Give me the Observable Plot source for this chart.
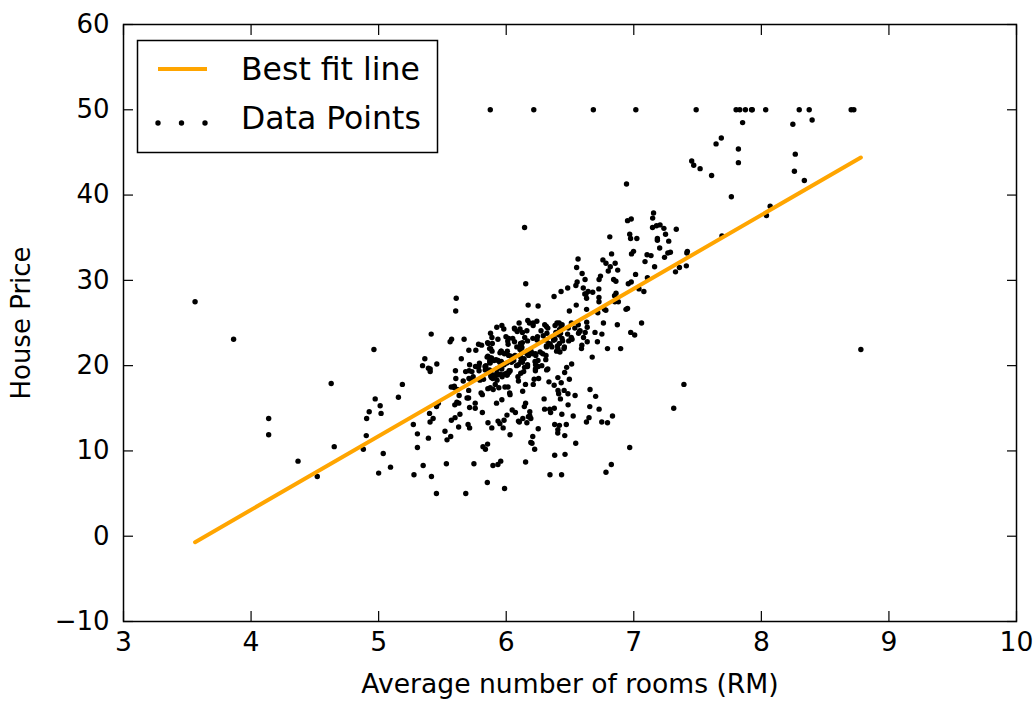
<!DOCTYPE html>
<html>
<head>
<meta charset="utf-8">
<script src="https://cdn.jsdelivr.net/npm/d3@7"></script>
<script src="https://cdn.jsdelivr.net/npm/@observablehq/plot@0.6"></script>
<style>
  html, body { margin: 0; padding: 0; background: #fff; }
  #chart svg { display: block; }
</style>
</head>
<body>
<div id="chart"></div>
<script>
// Average number of rooms per dwelling (RM), one entry per tract
const rooms = [
  6.575, 6.421, 7.185, 6.998, 7.147, 6.430, 6.012, 6.172, 5.631, 6.004,
  6.377, 6.009, 5.889, 5.949, 6.096, 5.834, 5.935, 5.990, 5.456, 5.727,
  5.570, 5.965, 6.142, 5.813, 5.924, 5.599, 5.813, 6.047, 6.495, 6.674,
  5.713, 6.072, 5.950, 5.701, 6.096, 5.933, 5.841, 5.850, 5.966, 6.595,
  7.024, 6.770, 6.169, 6.211, 6.069, 5.682, 5.786, 6.030, 5.399, 5.602,
  5.963, 6.115, 6.511, 5.998, 5.888, 7.249, 6.383, 6.816, 6.145, 5.927,
  5.741, 5.966, 6.456, 6.762, 7.104, 6.290, 5.787, 5.878, 5.594, 5.885,
  6.417, 5.961, 6.065, 6.245, 6.273, 6.286, 6.279, 6.140, 6.232, 5.874,
  6.727, 6.619, 6.302, 6.167, 6.389, 6.630, 6.015, 6.121, 7.007, 7.079,
  6.417, 6.405, 6.442, 6.211, 6.249, 6.625, 6.163, 8.069, 7.820, 7.416,
  6.727, 6.781, 6.405, 6.137, 6.167, 5.851, 5.836, 6.127, 6.474, 6.229,
  6.195, 6.715, 5.913, 6.092, 6.254, 5.928, 6.176, 6.021, 5.872, 5.731,
  5.870, 6.004, 5.961, 5.856, 5.879, 5.986, 5.613, 5.693, 6.431, 5.637,
  6.458, 6.326, 6.372, 5.822, 5.757, 6.335, 5.942, 6.454, 5.857, 6.151,
  6.174, 5.019, 5.403, 5.468, 4.903, 6.130, 5.628, 4.926, 5.186, 5.597,
  6.122, 5.404, 5.012, 5.709, 6.129, 6.152, 5.272, 6.943, 6.066, 6.510,
  6.250, 7.489, 7.802, 8.375, 5.854, 6.101, 7.929, 5.877, 6.319, 6.402,
  5.875, 5.880, 5.572, 6.416, 5.859, 6.546, 6.020, 6.315, 6.860, 6.980,
  7.765, 6.144, 7.155, 6.563, 5.604, 6.153, 7.831, 6.782, 6.556, 7.185,
  6.951, 6.739, 7.178, 6.800, 6.604, 7.875, 7.287, 7.107, 7.274, 6.975,
  7.135, 6.162, 7.610, 7.853, 8.034, 5.891, 6.326, 5.783, 6.064, 5.344,
  5.960, 5.404, 5.807, 6.375, 5.412, 6.182, 5.888, 6.642, 5.951, 6.373,
  6.951, 6.164, 6.879, 6.618, 8.266, 8.725, 8.040, 7.163, 7.686, 6.552,
  5.981, 7.412, 8.337, 8.247, 6.726, 6.086, 6.631, 7.358, 6.481, 6.606,
  6.897, 6.095, 6.358, 6.393, 5.593, 5.605, 6.108, 6.226, 6.433, 6.718,
  6.487, 6.438, 6.957, 8.259, 6.108, 5.876, 7.454, 8.704, 7.333, 6.842,
  7.203, 7.520, 8.398, 7.327, 7.206, 5.560, 7.014, 8.297, 7.470, 5.920,
  5.856, 6.240, 6.538, 7.691, 6.758, 6.854, 7.267, 6.826, 6.482, 6.812,
  7.820, 6.968, 7.645, 7.923, 7.088, 6.453, 6.230, 6.209, 6.315, 6.565,
  6.861, 7.148, 6.630, 6.127, 6.009, 6.678, 6.549, 5.790, 6.345, 7.041,
  6.871, 6.590, 6.495, 6.982, 7.236, 6.616, 7.420, 6.849, 6.635, 5.972,
  4.973, 6.122, 6.023, 6.266, 6.567, 5.705, 5.914, 5.782, 6.382, 6.113,
  6.426, 6.376, 6.041, 5.708, 6.415, 6.431, 6.312, 6.083, 5.868, 6.333,
  6.144, 5.706, 6.031, 6.316, 6.310, 6.037, 5.869, 5.895, 6.059, 5.985,
  5.968, 7.241, 6.540, 6.696, 6.874, 6.014, 5.898, 6.516, 6.635, 6.939,
  6.490, 6.579, 5.884, 6.728, 5.663, 5.936, 6.212, 6.395, 6.127, 6.112,
  6.398, 6.251, 5.362, 5.803, 8.780, 3.561, 4.963, 3.863, 4.970, 6.683,
  7.016, 6.216, 5.875, 4.906, 4.138, 7.313, 6.649, 6.794, 6.380, 6.223,
  6.968, 6.545, 5.536, 5.520, 4.368, 5.277, 4.652, 5.000, 4.880, 5.390,
  5.713, 6.051, 5.036, 6.193, 5.887, 6.471, 6.405, 5.747, 5.453, 5.852,
  5.987, 6.343, 6.404, 5.349, 5.531, 5.683, 4.138, 5.608, 5.617, 6.852,
  5.757, 6.657, 4.628, 5.155, 4.519, 6.434, 6.782, 5.304, 5.957, 6.824,
  6.411, 6.006, 5.648, 6.103, 5.565, 5.896, 5.837, 6.202, 6.193, 6.380,
  6.348, 6.833, 6.425, 6.436, 6.208, 6.629, 6.461, 6.152, 5.935, 5.627,
  5.818, 6.406, 6.219, 6.485, 5.854, 6.459, 6.341, 6.251, 6.185, 6.417,
  6.749, 6.655, 6.297, 7.393, 6.728, 6.525, 5.976, 5.936, 6.301, 6.081,
  6.701, 6.376, 6.317, 6.513, 6.209, 5.759, 5.952, 6.003, 5.926, 5.713,
  6.167, 6.229, 6.437, 6.980, 5.427, 6.162, 6.484, 5.304, 6.185, 6.229,
  6.242, 6.750, 7.061, 5.762, 5.871, 6.312, 6.114, 5.905, 5.454, 5.414,
  5.093, 5.983, 5.983, 5.707, 5.926, 5.670, 5.390, 5.794, 6.019, 5.569,
  6.027, 6.593, 6.120, 6.976, 6.794, 6.030
];

// Median house price (in $1000s), same order as rooms
const prices = [
  24.0, 21.6, 34.7, 33.4, 36.2, 28.7, 22.9, 27.1, 16.5, 18.9,
  15.0, 18.9, 21.7, 20.4, 18.2, 19.9, 23.1, 17.5, 20.2, 18.2,
  13.6, 19.6, 15.2, 14.5, 15.6, 13.9, 16.6, 14.8, 18.4, 21.0,
  12.7, 14.5, 13.2, 13.1, 13.5, 18.9, 20.0, 21.0, 24.7, 30.8,
  34.9, 26.6, 25.3, 24.7, 21.2, 19.3, 20.0, 16.6, 14.4, 19.4,
  19.7, 20.5, 25.0, 23.4, 18.9, 35.4, 24.7, 31.6, 23.3, 19.6,
  18.7, 16.0, 22.2, 25.0, 33.0, 23.5, 19.4, 22.0, 17.4, 20.9,
  24.2, 21.7, 22.8, 23.4, 24.1, 21.4, 20.0, 20.8, 21.2, 20.3,
  28.0, 23.9, 24.8, 22.9, 23.9, 26.6, 22.5, 22.2, 23.6, 28.7,
  22.6, 22.0, 22.9, 25.0, 20.6, 28.4, 21.4, 38.7, 43.8, 33.2,
  27.5, 26.5, 18.6, 19.3, 20.1, 19.5, 19.5, 20.4, 19.8, 19.4,
  21.7, 22.8, 18.8, 18.7, 18.5, 18.3, 21.2, 19.2, 20.4, 19.3,
  22.0, 20.3, 20.5, 17.3, 18.8, 21.4, 15.7, 16.2, 18.0, 14.3,
  19.2, 19.6, 23.0, 18.4, 15.6, 18.1, 17.4, 17.1, 13.3, 17.8,
  14.0, 14.4, 13.4, 15.6, 11.8, 13.8, 15.6, 14.6, 17.8, 15.4,
  21.5, 19.6, 15.3, 19.4, 17.0, 15.6, 13.1, 41.3, 24.3, 23.3,
  27.0, 50.0, 50.0, 50.0, 22.7, 25.0, 50.0, 23.8, 23.8, 22.3,
  17.4, 19.1, 23.1, 23.6, 22.6, 29.4, 23.2, 24.6, 29.9, 37.2,
  39.8, 36.2, 37.9, 32.5, 26.4, 29.6, 50.0, 32.0, 29.8, 34.9,
  37.0, 30.5, 36.4, 31.1, 29.1, 50.0, 33.3, 30.3, 34.6, 34.9,
  32.9, 24.1, 42.3, 48.5, 50.0, 22.6, 24.4, 22.5, 24.4, 20.0,
  21.7, 19.3, 22.4, 28.1, 23.7, 25.0, 23.3, 28.7, 21.5, 23.0,
  26.7, 21.7, 27.5, 30.1, 44.8, 50.0, 37.6, 31.6, 46.7, 31.5,
  24.3, 31.7, 41.7, 48.3, 29.0, 24.0, 25.1, 31.5, 23.7, 23.3,
  22.0, 20.1, 22.2, 23.7, 17.6, 18.5, 24.3, 20.5, 24.5, 26.2,
  24.4, 24.8, 29.6, 42.8, 21.9, 20.9, 44.0, 50.0, 36.0, 30.1,
  33.8, 43.1, 48.8, 31.0, 36.5, 22.8, 30.7, 50.0, 43.5, 20.7,
  21.1, 25.2, 24.4, 35.2, 32.4, 32.0, 33.2, 33.1, 29.1, 35.1,
  45.4, 35.4, 46.0, 50.0, 32.2, 22.0, 20.1, 23.2, 22.3, 24.8,
  28.5, 37.3, 27.9, 23.9, 21.7, 28.6, 27.1, 20.3, 22.5, 29.0,
  24.8, 22.0, 26.4, 33.1, 36.1, 28.4, 33.4, 28.2, 22.8, 20.3,
  16.1, 22.1, 19.4, 21.6, 23.8, 16.2, 17.8, 19.8, 23.1, 21.0,
  23.8, 23.1, 20.4, 18.5, 25.0, 24.6, 23.0, 22.2, 19.3, 22.6,
  19.8, 17.1, 19.4, 22.2, 20.7, 21.1, 19.5, 18.5, 20.6, 19.0,
  18.7, 32.7, 16.5, 23.9, 31.2, 17.5, 17.2, 23.1, 24.5, 26.6,
  22.9, 24.1, 18.6, 30.1, 18.2, 20.6, 17.8, 21.7, 22.7, 22.6,
  25.0, 19.9, 20.8, 16.8, 21.9, 27.5, 21.9, 23.1, 50.0, 50.0,
  50.0, 50.0, 50.0, 13.8, 13.8, 15.0, 13.9, 13.3, 13.1, 10.2,
  10.4, 10.9, 11.3, 12.3, 8.8, 7.2, 10.5, 7.4, 10.2, 11.5,
  15.1, 23.2, 9.7, 13.8, 12.7, 13.1, 12.5, 8.5, 5.0, 6.3,
  5.6, 7.2, 12.1, 8.3, 8.5, 5.0, 11.9, 27.9, 17.2, 27.5,
  15.0, 17.2, 17.9, 16.3, 7.0, 7.2, 7.5, 10.4, 8.8, 8.4,
  16.7, 14.2, 20.8, 13.4, 11.7, 8.3, 10.2, 10.9, 11.0, 9.5,
  14.5, 14.1, 16.1, 14.3, 11.7, 13.4, 9.6, 8.7, 8.4, 12.8,
  10.5, 17.1, 18.4, 15.4, 10.8, 11.8, 14.9, 12.6, 14.1, 13.0,
  13.4, 15.2, 16.1, 17.8, 14.9, 14.1, 12.7, 13.5, 14.9, 20.0,
  16.4, 17.7, 19.5, 20.2, 21.4, 19.9, 19.0, 19.1, 19.1, 20.1,
  19.9, 19.6, 23.2, 29.8, 13.8, 13.3, 16.7, 12.0, 14.6, 21.4,
  23.0, 23.7, 25.0, 21.8, 20.6, 21.2, 19.1, 20.6, 15.2, 7.0,
  8.1, 13.6, 20.1, 21.8, 24.5, 23.1, 19.7, 18.3, 21.2, 17.5,
  16.8, 22.4, 20.6, 23.9, 22.0, 11.9
];

// Least-squares line, evaluated at the smallest and largest room counts
const fitRooms = [3.561, 8.780];
const fitPrices = [-0.7, 44.4];

// Axis ticks
const xTicks = [3, 4, 5, 6, 7, 8, 9, 10];
const yTicks = [-10, 0, 10, 20, 30, 40, 50, 60];

const points = rooms.map((rm, i) => ({rm, price: prices[i]}));
const fitLine = fitRooms.map((rm, i) => ({rm, price: fitPrices[i]}));

const lineColor = "#ffa500";
const dotRadius = 2.7;
const intFormat = d3.format("d");

const chart = Plot.plot({
  width: 1036,
  height: 702,
  marginLeft: 123,
  marginRight: 20,
  marginTop: 24,
  marginBottom: 81,
  style: {
    fontFamily: "'DejaVu Sans', sans-serif",
    fontSize: "26px",
    color: "#000",
    background: "#fff"
  },
  x: {domain: [3, 10]},
  y: {domain: [-10, 60]},
  marks: [
    Plot.dot(points, {x: "rm", y: "price", r: dotRadius, fill: "#000", stroke: "none"}),
    Plot.line(fitLine, {x: "rm", y: "price", stroke: lineColor, strokeWidth: 4, strokeLinecap: "round"}),
    Plot.axisX({
      ticks: xTicks, tickFormat: intFormat, tickSize: -10, tickPadding: 20.5, strokeWidth: 1.2,
      label: "Average number of rooms (RM)", labelAnchor: "center", labelArrow: "none", labelOffset: 71,
      fontSize: 26.6
    }),
    Plot.axisX({anchor: "top", ticks: xTicks, tickSize: -10, strokeWidth: 1.2, tickFormat: () => "", label: null}),
    Plot.axisY({
      ticks: yTicks, tickSize: -10, tickPadding: 24, strokeWidth: 1.2,
      label: "House Price", labelAnchor: "center", labelArrow: "none", labelOffset: 112
    }),
    Plot.axisY({anchor: "right", ticks: yTicks, tickSize: -10, strokeWidth: 1.2, tickFormat: () => "", label: null}),
    Plot.frame({stroke: "#000", strokeWidth: 1.5})
  ]
});

// Legend box in the upper-left corner of the axes, drawn over the data
const svg = d3.select(chart);
const legend = svg.append("g")
  .attr("font-family", "'DejaVu Sans', sans-serif")
  .attr("font-size", 31.5)
  .attr("text-anchor", "start")
  .attr("fill", "#000");

legend.append("rect")
  .attr("x", 137.5).attr("y", 40.5)
  .attr("width", 300).attr("height", 112)
  .attr("fill", "#fff").attr("stroke", "#000").attr("stroke-width", 1.5);

legend.append("line")
  .attr("x1", 158).attr("x2", 207)
  .attr("y1", 69).attr("y2", 69)
  .attr("stroke", lineColor).attr("stroke-width", 4);

legend.selectAll("circle.key")
  .data([158, 181.5, 205])
  .join("circle")
  .attr("class", "key")
  .attr("cx", d => d).attr("cy", 123)
  .attr("r", dotRadius).attr("fill", "#000");

legend.append("text").attr("x", 241).attr("y", 80).text("Best fit line");
legend.append("text").attr("x", 241).attr("y", 128.5).text("Data Points");

document.getElementById("chart").append(chart);
</script>
</body>
</html>
